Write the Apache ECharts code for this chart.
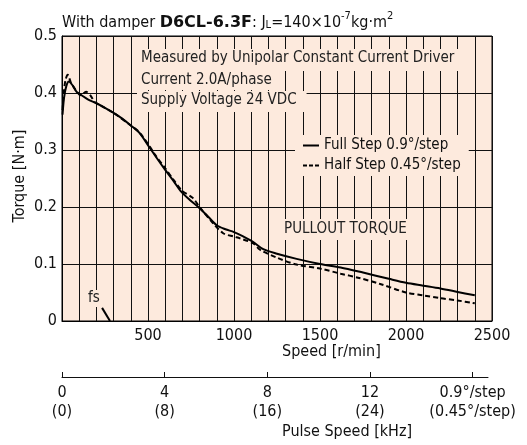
<!DOCTYPE html>
<html><head><meta charset="utf-8">
<script src="https://cdn.jsdelivr.net/npm/echarts@6/dist/echarts.min.js"></script>
<style>html,body{margin:0;padding:0;background:#fff}#c{width:527px;height:445px}</style>
</head><body><div id="c"></div>
<script>
const FONT = "'Liberation Sans Narrow','DejaVu Sans Condensed',sans-serif";
// Full step (solid) pullout torque
const speedFull  = [3, 12, 25, 40, 60, 85, 114, 150, 200, 250, 300, 350, 400, 450, 512, 560, 600, 650, 690, 745, 800, 850, 900, 950, 1000, 1050, 1110, 1170, 1250, 1364, 1500, 1620, 1750, 1900, 2000, 2100, 2200, 2300, 2400];
const torqueFull = [0.362, 0.392, 0.412, 0.420, 0.414, 0.402, 0.396, 0.389, 0.382, 0.374, 0.365, 0.355, 0.343, 0.330, 0.303, 0.282, 0.265, 0.245, 0.228, 0.212, 0.198, 0.183, 0.168, 0.161, 0.156, 0.149, 0.139, 0.126, 0.118, 0.109, 0.100, 0.094, 0.085, 0.074, 0.067, 0.062, 0.057, 0.051, 0.045];
// Half step (dashed) pullout torque
const speedHalf  = [3, 10, 20, 33, 50, 80, 110, 140, 165, 190, 220, 300, 400, 450, 510, 545, 600, 650, 700, 760, 800, 880, 937, 1000, 1035, 1112, 1151, 1250, 1364, 1500, 1620, 1721, 1850, 2000, 2100, 2200, 2300, 2400];
const torqueHalf = [0.370, 0.400, 0.422, 0.432, 0.420, 0.405, 0.396, 0.402, 0.396, 0.384, 0.379, 0.365, 0.343, 0.331, 0.306, 0.290, 0.268, 0.247, 0.228, 0.216, 0.200, 0.171, 0.154, 0.148, 0.145, 0.136, 0.125, 0.111, 0.099, 0.092, 0.083, 0.076, 0.065, 0.050, 0.045, 0.040, 0.036, 0.031];
// fs (start torque marker)
const speedFs  = [233, 279];
const torqueFs = [0.023, 0];
// tick labels
const speedTicks = [500, 1000, 1500, 2000, 2500];
const torqueTicks = ['0', '0.1', '0.2', '0.3', '0.4', '0.5'];
const pulseTicks = [0, 4, 8, 12, 16];
const pulseLabelsFull = ['0', '4', '8', '12', '0.9°/step'];
const pulseLabelsHalf = ['(0)', '(8)', '(16)', '(24)', '(0.45°/step)'];
const seriesNames = ['Full Step 0.9°/step', 'Half Step 0.45°/step'];

const zip = (a, b) => a.map((v, i) => [v, b[i]]);
const BG = '#fdeadd';
const chart = echarts.init(document.getElementById('c'), null, {renderer: 'canvas'});
const txt = {fontFamily: FONT, fontSize: 16, color: '#111'};
const note = (text, left, top, pad) => ({type: 'text', left, top, z: 100,
  style: {text, font: '15px ' + FONT, fill: '#222', backgroundColor: BG, padding: pad}});
chart.setOption({
  animation: false,
  backgroundColor: '#fff',
  textStyle: {fontFamily: FONT},
  grid: [
    {left: 62, right: 35, top: 36, bottom: 124, show: true, backgroundColor: BG, borderColor: '#000', borderWidth: 1},
    {left: 62, right: 39, top: 377, height: 0, show: false}
  ],
  xAxis: [
    {gridIndex: 0, type: 'value', min: 0, max: 2500, interval: 100,
     axisLine: {lineStyle: {color: '#000', width: 1}}, axisTick: {show: false},
     axisLabel: {...txt, margin: 7, formatter: v => speedTicks.includes(v) ? String(v) : ''},
     splitLine: {show: true, lineStyle: {color: '#111', width: 1}}},
    {gridIndex: 1, type: 'value', min: 0, max: 16.6,
     axisLine: {onZero: false, lineStyle: {color: '#111', width: 1}},
     axisTick: {inside: true, length: 5, customValues: pulseTicks, lineStyle: {color: '#111'}},
     axisLabel: {...txt, margin: 6, lineHeight: 19, customValues: pulseTicks,
       formatter: v => { const i = pulseTicks.indexOf(v); return i < 0 ? '' : pulseLabelsFull[i] + '\n' + pulseLabelsHalf[i]; }},
     splitLine: {show: false}}
  ],
  yAxis: [
    {gridIndex: 0, type: 'value', min: 0, max: 0.5, interval: 0.1,
     axisLine: {show: true, lineStyle: {color: '#000'}}, axisTick: {show: false},
     axisLabel: {...txt, margin: 5, formatter: v => torqueTicks[Math.round(v * 10)]},
     splitLine: {show: true, lineStyle: {color: '#111', width: 1}}},
    {gridIndex: 1, type: 'value', show: false}
  ],
  legend: {
    orient: 'vertical', left: 295, top: 135, padding: [3, 8, 3, 8],
    backgroundColor: BG, itemWidth: 16, itemHeight: 2, itemGap: 5,
    textStyle: {...txt, fontSize: 15},
    data: [
      {name: seriesNames[0], icon: 'path://M0,0H16V2H0Z'},
      {name: seriesNames[1], icon: 'path://M0,0H4V2H0Z M6,0H10V2H6Z M12,0H16V2H12Z'}
    ]
  },
  series: [
    {name: seriesNames[0], type: 'line', xAxisIndex: 0, yAxisIndex: 0, data: zip(speedFull, torqueFull),
     symbol: 'none', smooth: 0.3, lineStyle: {color: '#000', width: 2}, itemStyle: {color: '#000'}},
    {name: seriesNames[1], type: 'line', xAxisIndex: 0, yAxisIndex: 0, data: zip(speedHalf, torqueHalf),
     symbol: 'none', smooth: 0.3, lineStyle: {color: '#000', width: 2, type: [5, 3]}, itemStyle: {color: '#000'}},
    {name: 'fs', type: 'line', xAxisIndex: 0, yAxisIndex: 0, data: zip(speedFs, torqueFs),
     symbol: 'none', lineStyle: {color: '#000', width: 2}}
  ],
  graphic: [
    note('Measured by Unipolar Constant Current Driver', 137, 49, [2, 4, 5, 4]),
    note('Current 2.0A/phase', 137, 71, [2, 8, 2, 4]),
    note('Supply Voltage 24 VDC', 137, 91, [2, 10, 4, 4]),
    note('PULLOUT TORQUE', 280, 219, [3, 4, 3, 4]),
    note('fs', 87, 290, [1, 1, 1, 1]),
    {type: 'text', left: 282, top: 344, style: {text: 'Speed [r/min]', font: '16px ' + FONT, fill: '#111', align: 'center'}},
    {type: 'text', left: 282, top: 424, style: {text: 'Pulse Speed [kHz]', font: '16px ' + FONT, fill: '#111', align: 'center'}},
    {type: 'text', x: 20, y: 176, rotation: Math.PI / 2, style: {text: 'Torque [N·m]', font: '16px ' + FONT, fill: '#111', align: 'center', verticalAlign: 'middle'}},
    {type: 'text', left: 62, top: 11, style: {
      text: '{a|With damper }{b|D6CL-6.3F}{a|: J}{s|L}{a|=140×10}{u|-7}{a|kg·m}{u|2}',
      rich: {
        a: {font: '16px ' + FONT, fill: '#111', verticalAlign: 'bottom', lineHeight: 20},
        b: {font: 'bold 16px "DejaVu Sans"', fill: '#111', verticalAlign: 'bottom', lineHeight: 20},
        s: {font: '11px ' + FONT, fill: '#111', verticalAlign: 'bottom', lineHeight: 18},
        u: {font: '11px ' + FONT, fill: '#111', verticalAlign: 'top', lineHeight: 14}
      }}}
  ]
});
</script></body></html>
